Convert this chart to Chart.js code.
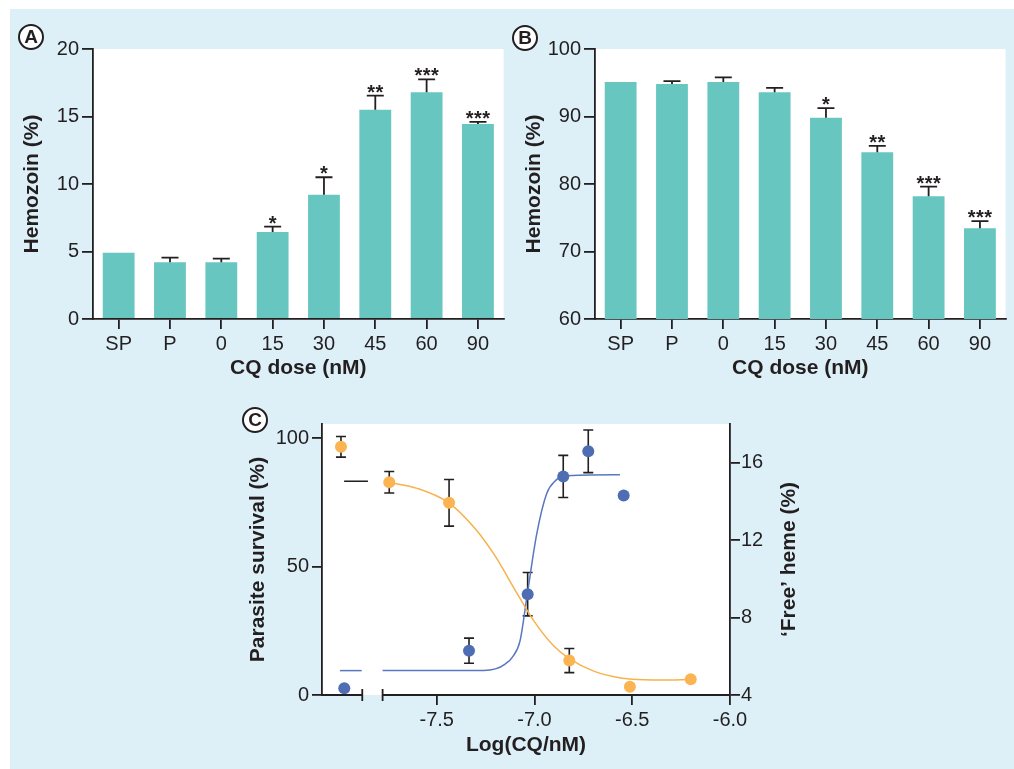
<!DOCTYPE html>
<html><head><meta charset="utf-8">
<script src="https://cdn.jsdelivr.net/npm/chart.js@4.4.1/dist/chart.umd.min.js"></script>
<style>
html,body{margin:0;padding:0;background:#fff;width:1014px;height:769px;overflow:hidden;font-family:"Liberation Sans",Arial,sans-serif;}
#bg{position:absolute;left:10px;top:9px;width:1004px;height:760px;background:#ddf0f8;}
canvas{position:absolute;}
.lab{position:absolute;width:22px;height:22px;border:2.5px solid #231f20;border-radius:50%;background:#fff;font:bold 19px "Liberation Sans",Arial,sans-serif;color:#231f20;text-align:center;line-height:22px;}
</style></head><body>
<div id="bg"></div>
<canvas id="cA" width="505" height="395" style="left:0;top:0"></canvas>
<canvas id="cB" width="509" height="395" style="left:505px;top:0"></canvas>
<canvas id="cC" width="560" height="369" style="left:240px;top:400px"></canvas>
<div class="lab" style="left:18px;top:24px">A</div>
<div class="lab" style="left:512px;top:25px">B</div>
<div class="lab" style="left:242px;top:407px">C</div>
<script>
// ---- Data ----
const doseLabels = ['SP','P','0','15','30','45','60','90'];
const hemozoinA = [4.9, 4.2, 4.2, 6.45, 9.2, 15.5, 16.8, 14.45];
const errA      = [0, 0.35, 0.27, 0.4, 1.3, 1.05, 0.95, 0.15];
const starsA    = ['', '', '', '*', '*', '**', '***', '***'];
const yTicksA   = [0, 5, 10, 15, 20];

const hemozoinB = [95.1, 94.8, 95.1, 93.6, 89.8, 84.7, 78.2, 73.45];
const errB      = [0, 0.45, 0.7, 0.65, 1.45, 0.95, 1.4, 1.05];
const starsB    = ['', '', '', '', '*', '**', '***', '***'];
const yTicksB   = [60, 70, 80, 90, 100];

const survX   = [-7.99, -7.743, -7.437, -6.822, -6.512, -6.201];
const survY   = [96.7, 82.9, 74.9, 13.4, 3.2, 6.1];
const survErr = [4.0, 4.2, 9.1, 4.7, 0, 0];

const hemeX   = [-7.973, -7.335, -7.035, -6.853, -6.725, -6.544];
const hemeY   = [4.35, 6.29, 9.21, 15.29, 16.59, 14.31];
const hemeErr = [0, 0.65, 1.12, 1.09, 1.1, 0];

const survFitX = [-7.743, -7.6, -7.437, -7.3, -7.2, -7.1, -7.0, -6.9, -6.822, -6.7, -6.6, -6.5, -6.35, -6.2];
const survFitY = [82.8, 80.5, 74.8, 64.5, 54, 41, 28.5, 19, 14.2, 9.4, 7.2, 6.1, 5.8, 6.0];
const hemeFitX = [-7.777, -7.26, -7.2, -7.15, -7.11, -7.074, -7.037, -6.989, -6.938, -6.89, -6.854, -6.563];
const hemeFitY = [5.26, 5.27, 5.35, 5.6, 6.0, 6.8, 9.2, 12.3, 14.4, 15.1, 15.32, 15.38];
const hemeBaseX = [-7.995, -7.884];
const hemeBaseY = [5.26, 5.26];
const survBaseX = [-7.974, -7.852];
const survBaseY = [83.3, 83.3];

const xTicksC  = [-7.5, -7.0, -6.5, -6.0];
const yTicksC  = [0, 50, 100];
const y2TicksC = [4, 8, 12, 16];

// ---- Styles ----
const INK = '#231f20';
const FONT = '"Liberation Sans", Arial, Helvetica, sans-serif';
const TEAL = '#68c6c0';
const ORANGE = '#fbb452';
const BLUE = '#4e6db3';
Chart.defaults.font.family = FONT;
Chart.defaults.color = INK;

const plotBg = {id:'plotBg', beforeDraw(c){const a=c.chartArea, x=c.ctx; x.save(); x.fillStyle='#fff'; x.fillRect(a.left,a.top,a.right-a.left,a.bottom-a.top); x.restore();}};

const barErr = {id:'barErr', afterDatasetsDraw(c, args, o){
  const ctx=c.ctx, ys=c.scales.y, meta=c.getDatasetMeta(0);
  ctx.save(); ctx.strokeStyle=INK; ctx.fillStyle=INK; ctx.lineWidth=1.8;
  meta.data.forEach((bar,i)=>{
    const v=o.values[i], e=o.errs[i];
    const top=ys.getPixelForValue(v+e);
    if(e>0){
      ctx.beginPath(); ctx.moveTo(bar.x, ys.getPixelForValue(v)); ctx.lineTo(bar.x, top);
      ctx.moveTo(bar.x-8.5, top); ctx.lineTo(bar.x+8.5, top); ctx.stroke();
    }
    if(o.stars[i]){
      ctx.font='bold 20px '+FONT; ctx.textAlign='center'; ctx.textBaseline='alphabetic';
      try{ ctx.letterSpacing='0.5px'; }catch(err){}
      ctx.fillText(o.stars[i], bar.x+0.25, top+3);
    }
  });
  ctx.restore();
}};

function tickCfg(list){ return function(s){ s.ticks = list.map(v=>({value:v})); }; }

function barChart(id, values, errs, stars, yTicks, yW, rightPad, titlePad){
  return new Chart(document.getElementById(id), {
    type:'bar',
    data:{labels:doseLabels, datasets:[{data:values, backgroundColor:TEAL, borderWidth:0, categoryPercentage:1, barPercentage:0.62}]},
    options:{
      responsive:false, animation:false, devicePixelRatio:1,
      layout:{padding:{top:49, right:rightPad, left:0, bottom:0}},
      plugins:{legend:{display:false}, tooltip:{enabled:false}, barErr:{values, errs, stars}},
      scales:{
        x:{grid:{display:true, drawOnChartArea:false, offset:false, tickLength:10, color:INK, lineWidth:1.8},
           border:{display:true, color:INK, width:1.8},
           ticks:{font:{size:20}, color:INK, padding:3, autoSkip:false, maxRotation:0},
           title:{display:true, text:'CQ dose (nM)', font:{size:21, weight:'bold'}, color:INK, padding:{top:0,bottom:14.4}},
           afterFit(s){ s.height = 76; }},
        y:{min:yTicks[0], max:yTicks[yTicks.length-1], afterBuildTicks:tickCfg(yTicks),
           grid:{display:true, drawOnChartArea:false, tickLength:11, color:INK, lineWidth:1.8},
           border:{display:true, color:INK, width:1.8},
           ticks:{font:{size:20}, color:INK, padding:3},
           title:{display:true, text:'Hemozoin (%)', font:{size:21, weight:'bold'}, color:INK, padding:{top:titlePad, bottom:0}},
           afterFit(s){ s.width = yW; }}
      }
    },
    plugins:[plotBg, barErr]
  });
}
barChart('cA', hemozoinA, errA, starsA, yTicksA, 93, 1.4, 19.4);
barChart('cB', hemozoinB, errB, starsB, yTicksB, 90, 8.4, 16.4);

// ---- Panel C ----
const pts = (xs, ys) => xs.map((x,i)=>({x, y:ys[i]}));
const errC = {id:'errC', beforeDatasetsDraw(c, args, o){
  const ctx=c.ctx; ctx.save(); ctx.strokeStyle=INK; ctx.lineWidth=1.6;
  o.sets.forEach(set=>{
    const ds=c.data.datasets[set.ds], sc=c.scales[ds.yAxisID], meta=c.getDatasetMeta(set.ds);
    ds.data.forEach((p,i)=>{
      const e=set.errs[i]; if(!e) return;
      const x=meta.data[i].x, t=sc.getPixelForValue(p.y+e), b=sc.getPixelForValue(p.y-e);
      ctx.beginPath(); ctx.moveTo(x,t); ctx.lineTo(x,b);
      ctx.moveTo(x-5,t); ctx.lineTo(x+5,t); ctx.moveTo(x-5,b); ctx.lineTo(x+5,b); ctx.stroke();
    });
  });
  ctx.restore();
}};
const breakAxis = {id:'breakAxis', afterDraw(c, args, o){
  const ctx=c.ctx, a=c.chartArea, xs=c.scales.x, yb=a.bottom;
  const l=xs.getPixelForValue(o.from), r=xs.getPixelForValue(o.to);
  ctx.save(); ctx.strokeStyle=INK; ctx.lineWidth=1.8;
  ctx.beginPath(); ctx.moveTo(a.left-1, yb); ctx.lineTo(l, yb); ctx.moveTo(r, yb); ctx.lineTo(a.right, yb);
  ctx.moveTo(l, yb-6); ctx.lineTo(l, yb+6); ctx.moveTo(r, yb-6); ctx.lineTo(r, yb+6); ctx.stroke();
  // right axis title, reading upward
  ctx.font='bold 21px '+FONT; ctx.fillStyle=INK; ctx.textAlign='center'; ctx.textBaseline='middle';
  ctx.translate(549, (a.top+a.bottom)/2); ctx.rotate(-Math.PI/2); ctx.fillText(o.rightTitle, 0, 0);
  ctx.restore();
}};

new Chart(document.getElementById('cC'), {
  type:'scatter',
  data:{datasets:[
    {data:pts(hemeX, hemeY), yAxisID:'y2', backgroundColor:BLUE, borderColor:BLUE, pointRadius:6, pointBorderWidth:0, showLine:false},
    {data:pts(survX, survY), yAxisID:'y', backgroundColor:ORANGE, borderColor:ORANGE, pointRadius:6, pointBorderWidth:0, showLine:false},
    {data:pts(survFitX, survFitY), yAxisID:'y', showLine:true, borderColor:'#f7b24c', borderWidth:1.5, pointRadius:0, cubicInterpolationMode:'monotone'},
    {data:pts(hemeFitX, hemeFitY), yAxisID:'y2', showLine:true, borderColor:'#5878bf', borderWidth:1.5, pointRadius:0, cubicInterpolationMode:'monotone'},
    {data:pts(hemeBaseX, hemeBaseY), yAxisID:'y2', showLine:true, borderColor:'#5878bf', borderWidth:1.5, pointRadius:0},
    {data:pts(survBaseX, survBaseY), yAxisID:'y', showLine:true, borderColor:INK, borderWidth:1.5, pointRadius:0}
  ]},
  options:{
    responsive:false, animation:false, devicePixelRatio:1,
    layout:{padding:{top:24, right:0, left:0, bottom:0}},
    plugins:{legend:{display:false}, tooltip:{enabled:false},
      errC:{sets:[{ds:0, errs:hemeErr},{ds:1, errs:survErr}]},
      breakAxis:{from:-7.881, to:-7.777, rightTitle:'\u2018Free\u2019 heme (%)'}},
    scales:{
      x:{type:'linear', min:-8.087, max:-6.0, afterBuildTicks:tickCfg(xTicksC),
         grid:{display:true, drawOnChartArea:false, tickLength:10, color:INK, lineWidth:1.8},
         border:{display:false},
         ticks:{font:{size:20}, color:INK, padding:3, callback:v=>v.toFixed(1)},
         title:{display:true, text:'Log(CQ/nM)', font:{size:21, weight:'bold'}, color:INK, padding:{top:0,bottom:11.4}},
         afterFit(s){ s.height = 74; }},
      y:{position:'left', min:0, max:105.6, afterBuildTicks:tickCfg(yTicksC),
         grid:{display:true, drawOnChartArea:false, tickLength:10, color:INK, lineWidth:1.8},
         border:{display:true, color:INK, width:1.8},
         ticks:{font:{size:20}, color:INK, padding:3},
         title:{display:true, text:'Parasite survival (%)', font:{size:21, weight:'bold'}, color:INK, padding:{top:5.4,bottom:0}},
         afterFit(s){ s.width = 82; }},
      y2:{position:'right', min:4, max:18, afterBuildTicks:tickCfg(y2TicksC),
         grid:{display:true, drawOnChartArea:false, tickLength:10, color:INK, lineWidth:1.8},
         border:{display:true, color:INK, width:1.8},
         ticks:{font:{size:20}, color:INK, padding:1},
         afterFit(s){ s.width = 70; }}
    }
  },
  plugins:[plotBg, errC, breakAxis]
});
</script>
</body></html>
